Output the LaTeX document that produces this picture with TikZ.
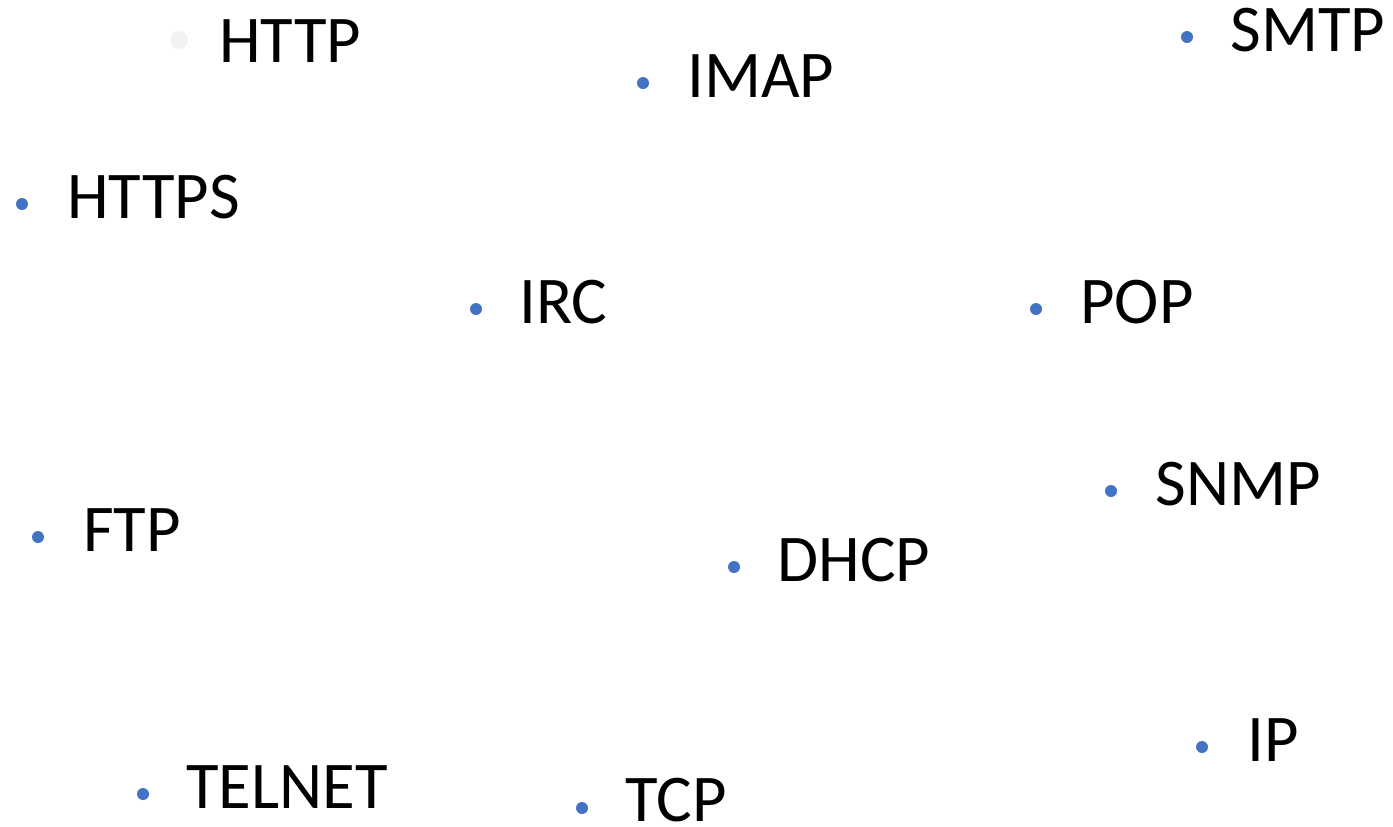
\documentclass[tikz,border=0pt]{standalone}
\usepackage{fontspec}
\setmainfont{Carlito}
\usetikzlibrary{positioning}
\definecolor{dotblue}{RGB}{68,114,196}
\definecolor{dotgray}{RGB}{242,242,242}

\begin{document}
\begin{tikzpicture}[x=0.02cm, y=-0.02cm,
		bullet/.style={circle, fill=dotblue, inner sep=0, minimum size=0.24cm},
		proto/.style={anchor=base west, inner sep=0, font=\fontsize{38}{46}\selectfont}]
			\useasboundingbox (0,0) rectangle (1393,826);

			\node[bullet, fill=dotgray, minimum size=0.36cm] (http) at (179,40) {};
			\node[bullet] (imap) at (643,83) {};
			\node[bullet] (smtp) at (1187,37) {};
			\node[bullet] (https) at (22,204) {};
			\node[bullet] (irc) at (476,309) {};
			\node[bullet] (pop) at (1036,309) {};
			\node[bullet] (snmp) at (1111,491) {};
			\node[bullet] (ftp) at (38,537) {};
			\node[bullet] (dhcp) at (734,567) {};
			\node[bullet] (ip) at (1202,747) {};
			\node[bullet] (telnet) at (143,794) {};
			\node[bullet] (tcp) at (582,808) {};

			\node[proto] (httpT) at (219,62) {HTTP};
			\node[proto] (imapT) at (687,97) {IMAP};
			\node[proto] (smtpT) at (1230,51) {SMTP};
			\node[proto] (httpsT) at (67,218) {HTTPS};
			\node[proto] (ircT) at (519,323) {IRC};
			\node[proto] (popT) at (1080,323) {POP};
			\node[proto] (snmpT) at (1155,505) {SNMP};
			\node[proto] (ftpT) at (83,551) {FTP};
			\node[proto] (dhcpT) at (777,581) {DHCP};
			\node[proto] (ipT) at (1247,761) {IP};
			\node[proto] (telnetT) at (186,808) {TELNET};
			\node[proto] (tcpT) at (625,821) {TCP};
		\end{tikzpicture}
\end{document}
